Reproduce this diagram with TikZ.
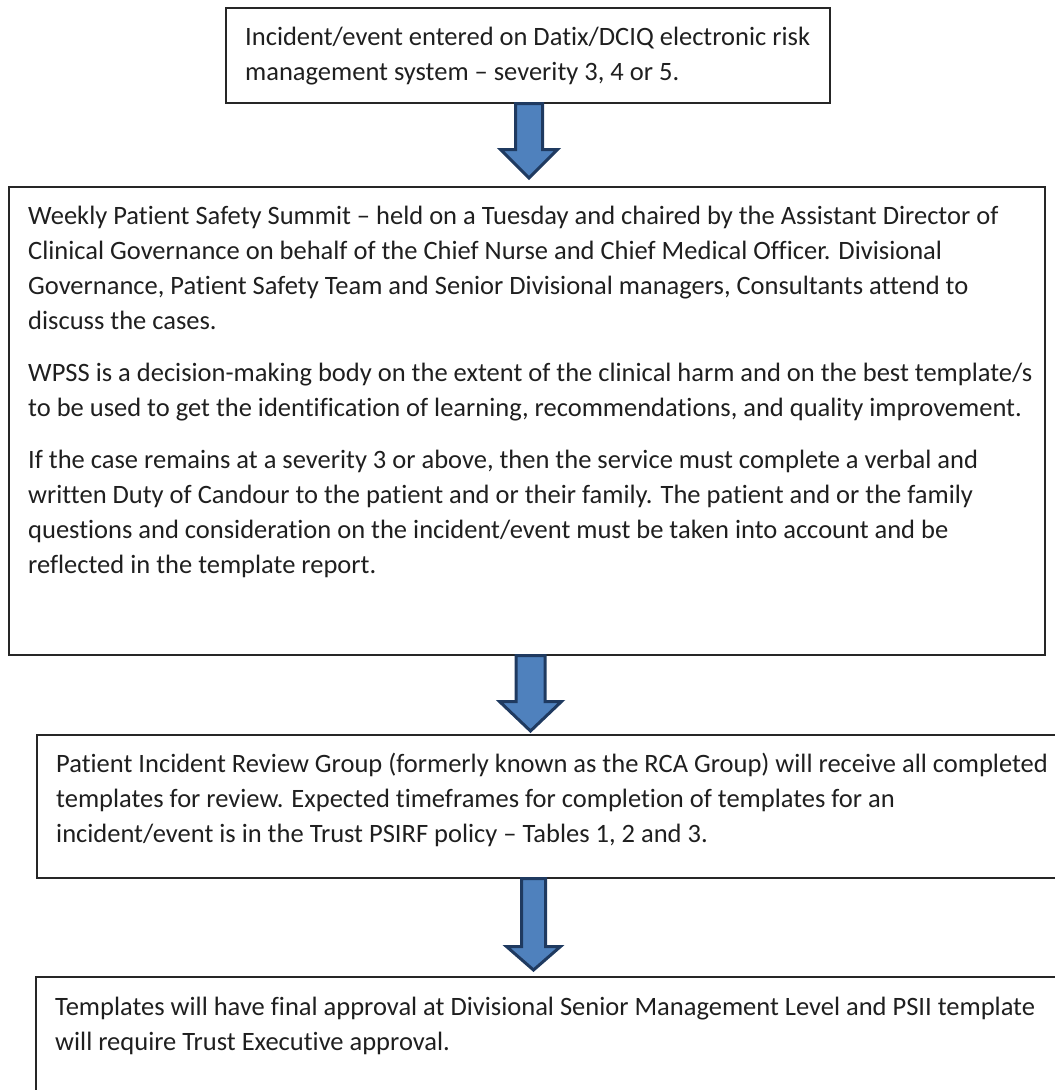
\documentclass[tikz,border=0pt]{standalone}
\usepackage{fontspec}
\setmainfont{Carlito}[Ligatures=NoCommon]
\usepackage{tikz}
\usetikzlibrary{calc}

\definecolor{arrowfill}{HTML}{4F81BD}
\definecolor{arrowline}{HTML}{1F3A60}

\begin{document}
\begin{tikzpicture}[x=1pt, y=-1pt,
    box/.style={draw=black!85, line width=1.5pt, inner sep=0pt, anchor=north west},
    boxtext/.style={anchor=north west, inner sep=0pt, align=left,
      font=\fontsize{26.5}{35}\selectfont, text=black!88},
    blockarrow/.style={fill=arrowfill, draw=arrowline, line width=3pt, line join=miter}]

  % from, to, x, half shaft, half head, head length, gap
  \newcommand\BigArrow[7]{%
    \draw[blockarrow] let \p1 = (#1.south), \p2 = (#2.north) in
      ({#3pt-#4pt},\y1) -- ({#3pt+#4pt},\y1) -- ({#3pt+#4pt},{\y2+#7pt+#6pt})
      -- ({#3pt+#5pt},{\y2+#7pt+#6pt}) -- ({#3pt},{\y2+#7pt})
      -- ({#3pt-#5pt},{\y2+#7pt+#6pt}) -- ({#3pt-#4pt},{\y2+#7pt+#6pt}) -- cycle;}

  \useasboundingbox (0,0) rectangle (1055,1090);
  \clip (0,0) rectangle (1055,1090);

  % boxes
  \node[box, minimum width=604pt, minimum height=95pt] (event) at (225,7) {};
  \node[box, minimum width=1036pt, minimum height=468pt] (summit) at (8,186) {};
  \node[box, minimum width=1060pt, minimum height=143pt] (review) at (36,734) {};
  \node[box, minimum width=1060pt, minimum height=200pt] (approval) at (35,976) {};

  % texts
  \node[boxtext] (eventtext) at ([xshift=20pt, yshift=-14pt]event.north west)
    {\strut Incident/event entered on Datix/DCIQ electronic risk\\
     management system – severity 3, 4 or 5.};

  \node[boxtext] (summittext) at ([xshift=20pt, yshift=-14pt]summit.north west)
    {\strut Weekly Patient Safety Summit – held on a Tuesday and chaired by the Assistant Director of\\
     Clinical Governance on behalf of the Chief Nurse and Chief Medical Officer. Divisional\\
     Governance, Patient Safety Team and Senior Divisional managers, Consultants attend to\\
     discuss the cases.\\[17pt]
     WPSS is a decision-making body on the extent of the clinical harm and on the best template/s\\
     to be used to get the identification of learning, recommendations, and quality improvement.\\[17pt]
     If the case remains at a severity 3 or above, then the service must complete a verbal and\\
     written Duty of Candour to the patient and or their family. The patient and or the family\\
     questions and consideration on the incident/event must be taken into account and be\\
     reflected in the template report.};

  \node[boxtext] (reviewtext) at ([xshift=20pt, yshift=-14pt]review.north west)
    {\strut Patient Incident Review Group (formerly known as the RCA Group) will receive all completed\\
     templates for review. Expected timeframes for completion of templates for an\\
     incident/event is in the Trust PSIRF policy – Tables 1, 2 and 3.};

  \node[boxtext] (approvaltext) at ([xshift=20pt, yshift=-15pt]approval.north west)
    {\strut Templates will have final approval at Divisional Senior Management Level and PSII template\\
     will require Trust Executive approval.};

  % arrows
  \BigArrow{event}{summit}{529}{13.5}{28.5}{28.5}{8}
  \BigArrow{summit}{review}{530.5}{14.5}{31}{29.5}{3}
  \BigArrow{review}{approval}{533.5}{12}{27}{23.5}{6}

\end{tikzpicture}
\end{document}
